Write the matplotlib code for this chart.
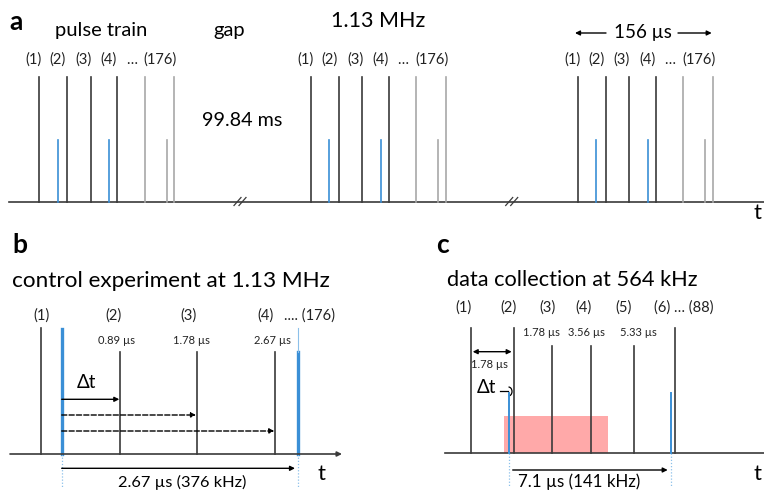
import matplotlib
matplotlib.use("Agg")
import matplotlib.pyplot as plt
from matplotlib.patches import Rectangle, Arc

plt.rcParams['font.family'] = ['Lato', 'DejaVu Sans']

# ---------------- data (schematic positions) ----------------
# panel a: pulse train groups
group_starts = [39.3, 311.0, 578.0]
train_black = [0.0, 28.0, 51.4, 78.0]
train_blue = [18.4, 70.0]
train_gray_tall = [105.4, 135.0]
train_gray_short = [127.4]
train_labels = ["(1)", "(2)", "(3)", "(4)", "…", "(176)"]
train_label_dx = [-5.5, 18.5, 44.0, 69.5, 92.0, 121.0]
break_marks = [240.0, 511.7]

# panel b: control experiment
ctrl_black = [40.7, 120.0, 196.7, 275.3]
ctrl_black_top = [328.3, 351.7, 351.7, 351.7]
ctrl_blue = [61.7, 297.7]
ctrl_labels = ["(1)", "(2)", "(3)", "(4)", ".... (176)"]
ctrl_label_x = [41.7, 113.3, 188.3, 265.0, 309.0]
ctrl_times = ["0.89 µs", "1.78 µs", "2.67 µs"]
ctrl_time_x = [116.7, 191.7, 272.7]
ctrl_arrows_end = [119.3, 196.0, 274.3]
ctrl_arrow_style = ['-', '--', '--']

# panel c: data collection
data_black = [470.7, 514.0, 552.3, 590.7, 634.0, 675.0]
data_black_top = [328.3, 328.3, 345.7, 345.7, 345.7, 328.3]
data_blue = [509.0, 670.7]
data_labels = ["(1)", "(2)", "(3)", "(4)", "(5)", "(6) … (88)"]
data_label_x = [464.0, 508.3, 547.3, 583.3, 623.3, 684.0]
data_times = ["1.78 µs", "3.56 µs", "5.33 µs"]
data_time_x = [541.7, 586.7, 638.3]
window = (504.0, 607.7)

BLACK = '#3a3a3a'
GRAY = '#a8a8a8'
BLUE = '#3a8fd6'
LBLUE = '#8cc0ea'

fig = plt.figure(figsize=(7.64, 4.91), dpi=100)
ax = fig.add_axes([0, 0, 1, 1])
ax.set_xlim(0, 764)
ax.set_ylim(491, 0)
ax.axis('off')

def arrow(x0, y0, x1, y1, ls='-', both=False):
    ax.annotate('', xy=(x1, y1), xytext=(x0, y0),
                arrowprops=dict(arrowstyle='<|-|>' if both else '-|>', color='black',
                                lw=1.0, ls=ls, mutation_scale=7,
                                shrinkA=0, shrinkB=0))

# ---------------- panel a ----------------
base_a = 201.5
ax.plot([9, 764], [base_a, base_a], color=BLACK, lw=1.2)
for g in group_starts:
    for d in train_black:
        ax.plot([g + d, g + d], [base_a, 77], color=BLACK, lw=1.2)
    for d in train_gray_tall:
        ax.plot([g + d, g + d], [base_a, 77], color=GRAY, lw=1.2)
    for d in train_gray_short:
        ax.plot([g + d, g + d], [base_a, 140], color=GRAY, lw=1.2)
    for d in train_blue:
        ax.plot([g + d, g + d], [base_a, 140], color=BLUE, lw=1.2)
    for lab, dx in zip(train_labels, train_label_dx):
        ax.text(g + dx, 60, lab, ha='center', va='center', fontsize=10.5, color='#222')
for b in break_marks:
    for off in (-2.5, 2.5):
        ax.plot([b + off - 3.5, b + off + 3.5], [base_a + 4, base_a - 4], color=BLACK, lw=0.9)

ax.text(9, 22, 'a', fontsize=19, fontweight='bold', ha='left', va='center')
ax.text(101, 30, 'pulse train', fontsize=14.5, ha='center', va='center')
ax.text(229, 30, 'gap', fontsize=14.5, ha='center', va='center')
ax.text(242, 120, '99.84 ms', fontsize=14.2, ha='center', va='center')
ax.text(378, 21, '1.13 MHz', fontsize=15.5, ha='center', va='center')
ax.text(642.5, 32, '156 µs', fontsize=13.5, ha='center', va='center')
arrow(606.0, 33, 575, 33)
arrow(678.0, 33, 711.7, 33)
ax.text(757, 213, 't', fontsize=16, ha='center', va='center')

# ---------------- panel b ----------------
base_b = 454
ax.annotate('', xy=(342, base_b), xytext=(10, base_b),
            arrowprops=dict(arrowstyle='-|>', color=BLACK, lw=1.2, mutation_scale=7,
                            shrinkA=0, shrinkB=0))
for x, top in zip(ctrl_black, ctrl_black_top):
    ax.plot([x, x], [base_b, top], color=BLACK, lw=1.2)
ax.plot([ctrl_blue[0], ctrl_blue[0]], [base_b, 329], color=BLUE, lw=2.4)
ax.plot([ctrl_blue[1], ctrl_blue[1]], [base_b, 351.7], color=BLUE, lw=2.4)
ax.plot([ctrl_blue[1], ctrl_blue[1]], [351.7, 328.3], color=LBLUE, lw=0.8)
for x in ctrl_blue:
    ax.plot([x, x], [base_b, 487], color=LBLUE, lw=0.9, ls=(0, (1, 1.5)))
for lab, x in zip(ctrl_labels, ctrl_label_x):
    ax.text(x, 316, lab, fontsize=10.5, ha='center', va='center', color='#222')
for lab, x in zip(ctrl_times, ctrl_time_x):
    ax.text(x, 341, lab, fontsize=8, ha='center', va='center', color='#222')
for yv, xe, ls in zip([399.3, 415, 431], ctrl_arrows_end, ctrl_arrow_style):
    arrow(ctrl_blue[0], yv, xe, yv, ls=ls)
ax.text(86.7, 382, 'Δt', fontsize=13.5, ha='center', va='center')
arrow(ctrl_blue[0], 468.3, 295, 468.3)
ax.text(182.5, 482, '2.67 µs (376 kHz)', fontsize=11.8, ha='center', va='center')
ax.text(321.7, 474, 't', fontsize=16, ha='center', va='center')
ax.text(12, 245, 'b', fontsize=19, fontweight='bold', ha='left', va='center')
ax.text(12, 281, 'control experiment at 1.13 MHz', fontsize=16.2, ha='left', va='center')

# ---------------- panel c ----------------
base_c = 453.3
ax.add_patch(Rectangle((window[0], 415.7), window[1] - window[0], base_c - 415.7,
                       facecolor='#ff8c8c', alpha=0.75, edgecolor='none', zorder=1))
ax.plot([445, 764], [base_c, base_c], color=BLACK, lw=1.2)
for x, top in zip(data_black, data_black_top):
    ax.plot([x, x], [base_c, top], color=BLACK, lw=1.2, zorder=3)
for x in data_blue:
    ax.plot([x, x], [base_c, 392.7], color=BLUE, lw=1.4, zorder=3)
    ax.plot([x, x], [base_c, 487], color=LBLUE, lw=0.9, ls=(0, (1, 1.5)))
for lab, x in zip(data_labels, data_label_x):
    ax.text(x, 308, lab, fontsize=10.5, ha='center', va='center', color='#222')
for lab, x in zip(data_times, data_time_x):
    ax.text(x, 333, lab, fontsize=8, ha='center', va='center', color='#222')
arrow(472.7, 351.7, 511.7, 351.7, both=True)
ax.text(489.3, 364.5, '1.78 µs', fontsize=8, ha='center', va='center', color='#222')
ax.text(486, 387.5, 'Δt', fontsize=13.5, ha='center', va='center')
ax.plot([500, 508], [390.5, 390.5], color='black', lw=0.9)
ax.add_patch(Arc((508.5, 391.5), 7, 9, theta1=-90, theta2=90, color='black', lw=0.9))
arrow(512.7, 470, 667.7, 470)
ax.text(579, 482, '7.1 µs (141 kHz)', fontsize=12.2, ha='center', va='center')
ax.text(758, 474, 't', fontsize=16, ha='center', va='center')
ax.text(436, 245, 'c', fontsize=19, fontweight='bold', ha='left', va='center')
ax.text(446.7, 280, 'data collection at 564 kHz', fontsize=15.7, ha='left', va='center')

fig.savefig('out.png', dpi=100)
